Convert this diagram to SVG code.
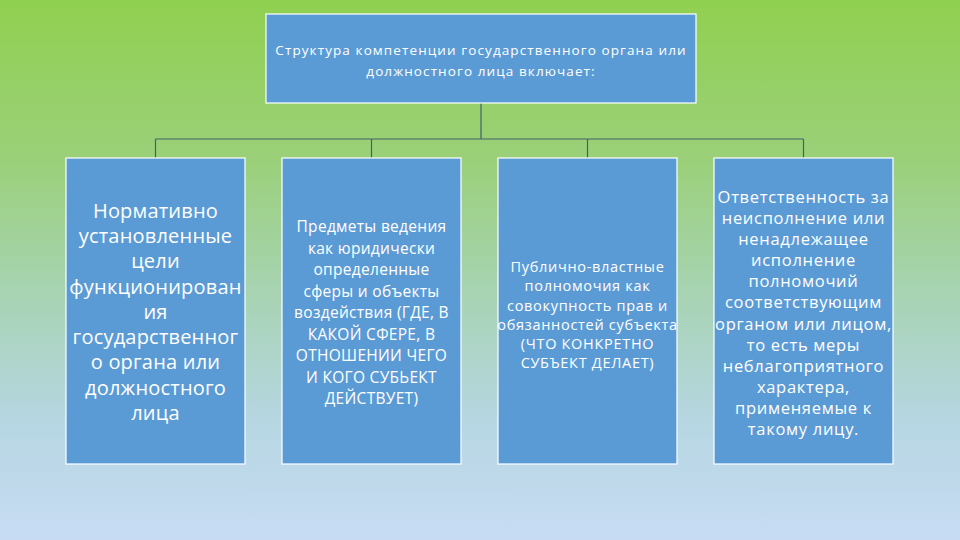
<svg xmlns="http://www.w3.org/2000/svg" width="960" height="540" viewBox="0 0 960 540">
<defs>
<linearGradient id="bg" x1="0" y1="0" x2="0" y2="1">
<stop offset="0" stop-color="#90d050"/>
<stop offset="0.3" stop-color="#9bd07a"/>
<stop offset="0.52" stop-color="#a6d3ae"/>
<stop offset="0.78" stop-color="#b6d6e2"/>
<stop offset="1" stop-color="#c7dcf3"/>
</linearGradient>
<style>
.box{fill:#5b9bd5;stroke:#ffffff;stroke-width:1.2}
.t{font-family:"Open Sans","Noto Sans","DejaVu Sans",sans-serif;fill:#ffffff;text-anchor:middle}
.c{stroke:#45606e;stroke-width:1.2;fill:none}
</style>
</defs>
<rect width="960" height="540" fill="url(#bg)"/>
<g id="connectors">
<path class="c" d="M481,103 V139 M155.5,139 H803.5 M155.5,139 V158 M371.5,139 V158 M587.5,139 V158 M803.5,139 V158"/>
</g>
<g id="top">
<rect class="box" x="266" y="14" width="430" height="89"/>
<g class="t" font-size="13.5" letter-spacing="1.1">
<text x="481" y="55">Структура компетенции государственного органа или</text>
<text x="481" y="76">должностного лица включает:</text>
</g>
</g>
<g id="n1">
<rect class="box" x="66" y="158" width="179" height="306"/>
<g class="t" font-size="20" letter-spacing="0.2">
<text x="155.5" y="218">Нормативно</text>
<text x="155.5" y="243">установленные</text>
<text x="155.5" y="268">цели</text>
<text x="155.5" y="294">функционирован</text>
<text x="155.5" y="319">ия</text>
<text x="155.5" y="344">государственног</text>
<text x="155.5" y="369">о органа или</text>
<text x="155.5" y="395">должностного</text>
<text x="155.5" y="420">лица</text>
</g>
</g>
<g id="n2">
<rect class="box" x="282" y="158" width="179" height="306"/>
<g class="t" font-size="15.5" letter-spacing="0.3">
<text x="371.5" y="232">Предметы ведения</text>
<text x="371.5" y="253.5">как юридически</text>
<text x="371.5" y="275">определенные</text>
<text x="371.5" y="296.5">сферы и объекты</text>
<text x="371.5" y="318">воздействия (ГДЕ, В</text>
<text x="371.5" y="339.5">КАКОЙ СФЕРЕ, В</text>
<text x="371.5" y="361">ОТНОШЕНИИ ЧЕГО</text>
<text x="371.5" y="382.5">И КОГО СУБЬЕКТ</text>
<text x="371.5" y="404">ДЕЙСТВУЕТ)</text>
</g>
</g>
<g id="n3">
<rect class="box" x="498" y="158" width="179" height="306"/>
<g class="t" font-size="14.5" letter-spacing="0.7">
<text x="587.5" y="272">Публично-властные</text>
<text x="587.5" y="291">полномочия как</text>
<text x="587.5" y="310.5">совокупность прав и</text>
<text x="587.5" y="330">обязанностей субъекта</text>
<text x="587.5" y="349">(ЧТО КОНКРЕТНО</text>
<text x="587.5" y="368">СУБЪЕКТ ДЕЛАЕТ)</text>
</g>
</g>
<g id="n4">
<rect class="box" x="714" y="158" width="179" height="306"/>
<g class="t" font-size="16.5" letter-spacing="0.7">
<text x="803.5" y="203">Ответственность за</text>
<text x="803.5" y="224">неисполнение или</text>
<text x="803.5" y="245">ненадлежащее</text>
<text x="803.5" y="266">исполнение</text>
<text x="803.5" y="287">полномочий</text>
<text x="803.5" y="308">соответствующим</text>
<text x="803.5" y="330">органом или лицом,</text>
<text x="803.5" y="351">то есть меры</text>
<text x="803.5" y="372">неблагоприятного</text>
<text x="803.5" y="393">характера,</text>
<text x="803.5" y="414">применяемые к</text>
<text x="803.5" y="435">такому лицу.</text>
</g>
</g>
</svg>
